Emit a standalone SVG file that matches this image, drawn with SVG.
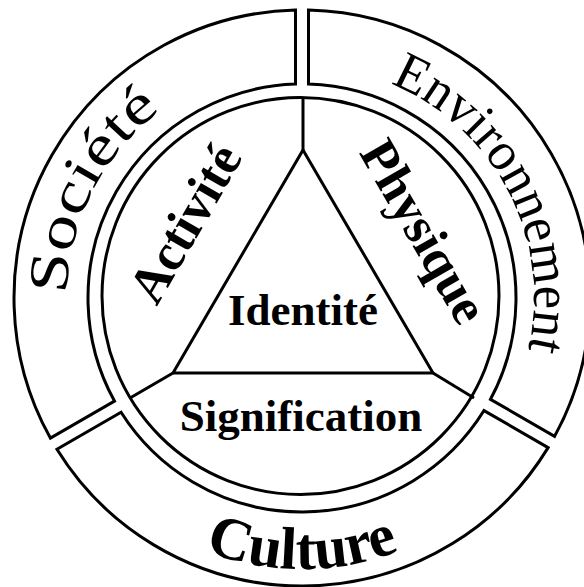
<svg xmlns="http://www.w3.org/2000/svg" width="584" height="587" viewBox="0 0 584 587">
  <style>
    .ln { fill: none; stroke: #000; stroke-width: 3; stroke-linejoin: miter; }
    .sec { fill: #fff; stroke: #000; stroke-width: 3; stroke-linejoin: miter; }
    .t { font-family: "Liberation Serif", "Times New Roman", serif; fill: #000; }
    .b { font-weight: bold; }
  </style>
  <defs>
    <path id="pSoc" d="M67.0,294.3 A235,235 0 0 1 175.8,99.8"/>
    <path id="pEnv" d="M390.4,83.5 A232,232 0 0 1 520.0,377.3"/>
    <path id="pCul" d="M67.3,433.5 A271,271 0 0 0 536.7,433.5"/>
  </defs>
  <rect width="584" height="587" fill="#fff"/>

  <g id="societe">
    <path class="sec" d="M295.5,10.07 A288,288 0 0 0 50.37,438.08 L114.46,401.08 A214,214 0 0 1 295.5,84.10 Z"/>
    <text class="t" font-size="56"><textPath href="#pSoc" textLength="214" lengthAdjust="spacingAndGlyphs">Société</textPath></text>
  </g>
  <g id="environnement">
    <path class="sec" d="M308.5,10.07 A288,288 0 0 1 554.60,436.34 L490.49,399.32 A214,214 0 0 0 308.5,84.10 Z"/>
    <text class="t" font-size="54"><textPath href="#pEnv" textLength="326" lengthAdjust="spacingAndGlyphs">Environnement</textPath></text>
  </g>
  <g id="culture">
    <path class="sec" d="M56.95,449.30 A288,288 0 0 0 548.10,447.60 L483.99,410.58 A214,214 0 0 1 121.07,412.28 Z"/>
    <text class="t b" font-size="60"><textPath href="#pCul" startOffset="50%" text-anchor="middle">Culture</textPath></text>
  </g>

  <g id="cercle">
    <circle class="ln" cx="300.5" cy="296" r="198.5"/>
  </g>

  <g id="connecteurs">
    <line class="ln" x1="303" y1="150" x2="303" y2="98"/>
    <line class="ln" x1="173" y1="373" x2="130" y2="398"/>
    <line class="ln" x1="433" y1="373" x2="474" y2="398"/>
  </g>

  <g id="identite">
    <path class="ln" d="M303,150 L433,373 L173,373 Z"/>
    <text class="t b" x="303" y="325" font-size="45" text-anchor="middle">Identité</text>
  </g>
  <g id="signification">
    <text class="t b" x="301" y="431" font-size="45" text-anchor="middle">Signification</text>
  </g>
  <g id="activite">
    <text class="t b" font-size="52" text-anchor="middle" transform="translate(200,232) rotate(-60)">Activité</text>
  </g>
  <g id="physique">
    <text class="t b" font-size="52" text-anchor="middle" transform="translate(409,240) rotate(60)">Physique</text>
  </g>
</svg>
